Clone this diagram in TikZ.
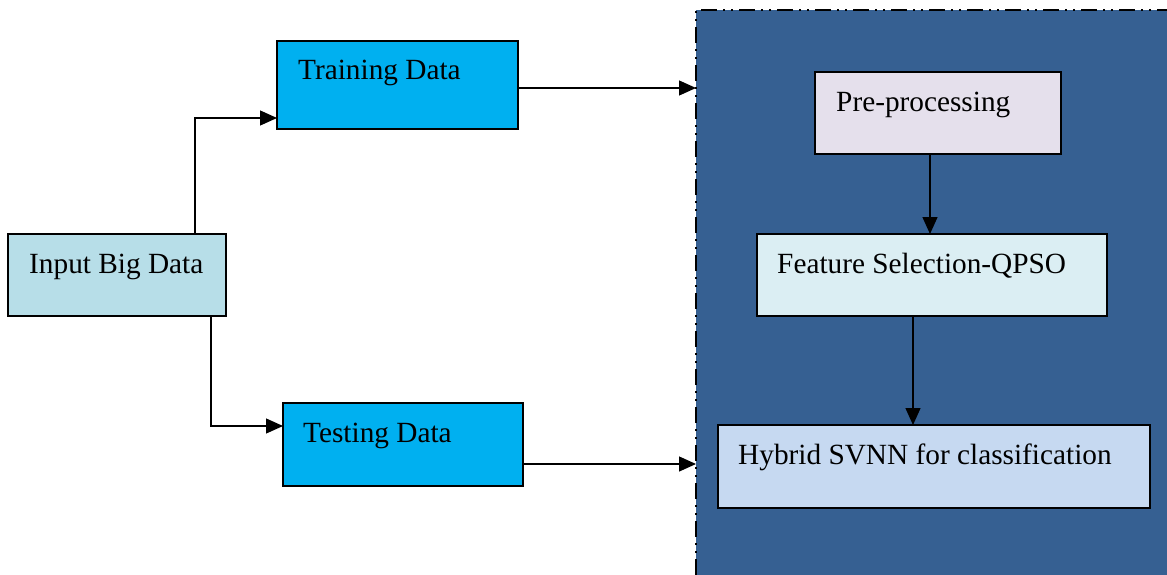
\documentclass[tikz,border=0pt]{standalone}
\usepackage{fontspec}
\setmainfont{Liberation Serif}
\usetikzlibrary{arrows.meta}
\definecolor{datablue}{HTML}{00B0F0}
\definecolor{inputblue}{HTML}{B7DEE8}
\definecolor{prefill}{HTML}{E5E0EC}
\definecolor{featfill}{HTML}{DBEEF3}
\definecolor{hybfill}{HTML}{C6D9F1}
\definecolor{panelblue}{RGB}{54,96,146}
\begin{document}
\begin{tikzpicture}[x=1pt,y=-1pt,
  box/.style={draw=black,line width=1.4pt,anchor=north west,inner sep=0pt,outer sep=0pt},
  lbl/.style={anchor=base west,inner sep=0pt,font=\fontsize{29.3}{34}\selectfont},
  arr/.style={-{Triangle[length=17pt,width=15pt]},line width=1.3pt},
  panelborder/.style={line width=1.6pt,dash pattern=on 16pt off 6pt on 2pt off 6pt on 2pt off 6pt}]
\useasboundingbox (0,0) rectangle (1167,575);

% processing panel
\fill[panelblue] (696,10) rectangle (1167,575);
\coordinate (pl) at (696,10);
\draw[panelborder] (696,575) -- (pl) -- (1167,10);

% boxes
\node[box,fill=inputblue,minimum width=218pt,minimum height=82pt] (in) at (8,234) {};
\node[box,fill=datablue,minimum width=241pt,minimum height=88pt] (train) at (277,41) {};
\node[box,fill=datablue,minimum width=240pt,minimum height=83pt] (test) at (283,403) {};
\node[box,fill=prefill,minimum width=246pt,minimum height=82pt] (pre) at (815,72) {};
\node[box,fill=featfill,minimum width=350pt,minimum height=82pt] (feat) at (757,234) {};
\node[box,fill=hybfill,minimum width=432pt,minimum height=83pt] (hyb) at (718,425) {};

% labels
\node[lbl] (inL) at (29,273) {Input Big Data};
\node[lbl] (trainL) at (298,80) {Training Data};
\node[lbl] (testL) at (303,442) {Testing Data};
\node[lbl] (preL) at (836,112) {Pre-processing};
\node[lbl] (featL) at (777,273) {Feature Selection-QPSO};
\node[lbl] (hybL) at (738,464) {Hybrid SVNN for classification};

% connectors
\draw[arr] ([xshift=187pt]in.north west) |- ([yshift=-33pt]train.west);
\draw[arr] ([xshift=203pt]in.south west) |- ([yshift=18.5pt]test.west);
\draw[arr] ([yshift=-3pt]train.east) -- ([yshift=-3pt]train.east -| pl);
\draw[arr] ([yshift=-19.5pt]test.east) -- ([yshift=-19.5pt]test.east -| pl);
\draw[arr] ([xshift=-8pt]pre.south) -- ([xshift=-8pt]pre.south |- feat.north);
\draw[arr] ([xshift=-19pt]feat.south) -- ([xshift=-19pt]feat.south |- hyb.north);
\end{tikzpicture}
\end{document}
